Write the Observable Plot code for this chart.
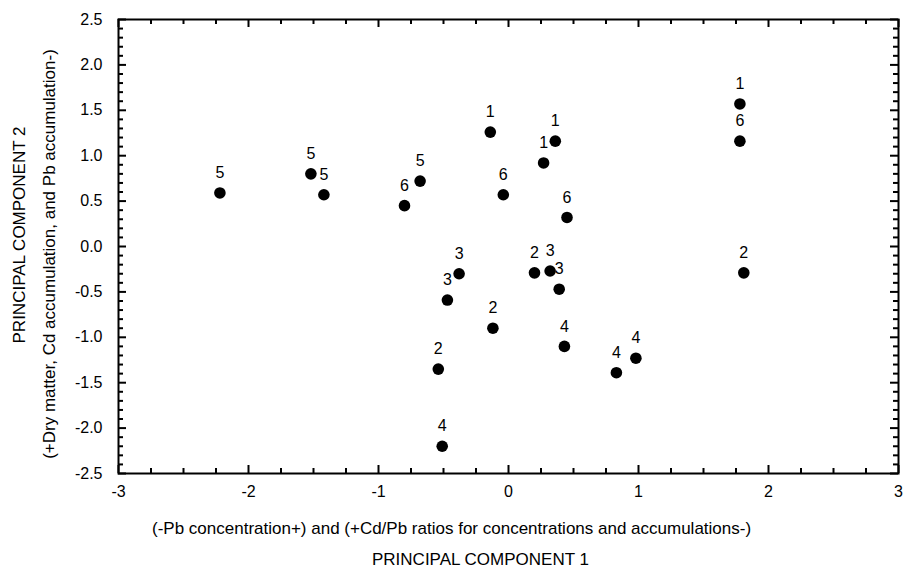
<!DOCTYPE html>
<html>
<head>
<meta charset="utf-8">
<script src="https://cdn.jsdelivr.net/npm/d3@7"></script>
<script src="https://cdn.jsdelivr.net/npm/@observablehq/plot@0.6"></script>
<style>
  html, body { margin: 0; padding: 0; background: #fff; }
  #chart svg { display: block; }
</style>
</head>
<body>
<div id="chart"></div>
<script>
// Data
const pc1 = [-2.22, -1.52, -1.42, -0.68, -0.14, 0.36, 0.27, -0.80, -0.04, 0.45,
             -0.38, -0.47, 0.20, 0.32, 0.39, -0.12, 0.43, -0.54, 0.83, 0.98,
             -0.51, 1.78, 1.78, 1.81];
const pc2 = [0.59, 0.80, 0.57, 0.72, 1.26, 1.16, 0.92, 0.45, 0.57, 0.32,
             -0.30, -0.59, -0.29, -0.27, -0.47, -0.90, -1.10, -1.35, -1.39, -1.23,
             -2.20, 1.57, 1.16, -0.29];
const groups = ["5", "5", "5", "5", "1", "1", "1", "6", "6", "6",
                "3", "3", "2", "3", "3", "2", "4", "2", "4", "4",
                "4", "1", "6", "2"];

const xTicks = [-3, -2, -1, 0, 1, 2, 3];
const yTicks = [-2.5, -2.0, -1.5, -1.0, -0.5, 0.0, 0.5, 1.0, 1.5, 2.0, 2.5];
const xMinor = d3.range(-12, 13).map(i => i / 4).filter(v => !xTicks.includes(v));
const yMinor = d3.range(-25, 26).map(i => i / 10).filter(v => !yTicks.some(t => Math.abs(t - v) < 1e-9));

const xTitle1 = "(-Pb concentration+) and (+Cd/Pb ratios for concentrations and accumulations-)";
const xTitle2 = "PRINCIPAL COMPONENT 1";
const yTitle1 = "PRINCIPAL COMPONENT 2";
const yTitle2 = "(+Dry matter, Cd accumulation, and Pb accumulation-)";

const data = pc1.map((x, i) => ({x, y: pc2[i], g: groups[i]}));

const W = 906, H = 571;
const mL = 118, mR = 8, mT = 19, mB = 98;
const fw = W - mL - mR, fh = H - mT - mB;
const majLen = 8, minLen = 5;

const chart = Plot.plot({
  width: W,
  height: H,
  marginLeft: mL,
  marginRight: mR,
  marginTop: mT,
  marginBottom: mB,
  style: {fontFamily: "'Liberation Sans', Arial, sans-serif", fontSize: "16px", background: "#fff", color: "#000"},
  x: {domain: [-3, 3]},
  y: {domain: [-2.5, 2.5]},
  marks: [
    Plot.frame({stroke: "#000", strokeWidth: 2}),
    // inward ticks: bottom
    Plot.tickX(xTicks, {x: d => d, insetTop: fh - majLen, stroke: "#000", strokeWidth: 2}),
    Plot.tickX(xMinor, {x: d => d, insetTop: fh - minLen, stroke: "#000", strokeWidth: 2}),
    // top
    Plot.tickX(xTicks, {x: d => d, insetBottom: fh - majLen, stroke: "#000", strokeWidth: 2}),
    Plot.tickX(xMinor, {x: d => d, insetBottom: fh - minLen, stroke: "#000", strokeWidth: 2}),
    // left
    Plot.tickY(yTicks, {y: d => d, insetRight: fw - majLen, stroke: "#000", strokeWidth: 2}),
    Plot.tickY(yMinor, {y: d => d, insetRight: fw - minLen, stroke: "#000", strokeWidth: 2}),
    // right
    Plot.tickY(yTicks, {y: d => d, insetLeft: fw - majLen, stroke: "#000", strokeWidth: 2}),
    Plot.tickY(yMinor, {y: d => d, insetLeft: fw - minLen, stroke: "#000", strokeWidth: 2}),
    Plot.axisX({ticks: xTicks, tickSize: 0, tickPadding: 12, tickFormat: d => String(d), fontSize: 16, label: null}),
    Plot.axisY({ticks: yTicks, tickSize: 0, tickPadding: 16, tickFormat: d => d.toFixed(1), fontSize: 16, label: null}),
    Plot.dot(data, {x: "x", y: "y", r: 5.8, fill: "#000", stroke: "none"}),
    Plot.text(data, {x: "x", y: "y", text: "g", dy: -20, fontSize: 16, fill: "#000"})
  ]
});

const svg = d3.select(chart);
const tg = svg.append("g")
  .attr("font-family", "'Liberation Sans', Arial, sans-serif")
  .attr("font-size", 17)
  .attr("fill", "#000");
tg.append("text").attr("x", 152).attr("y", 534).attr("text-anchor", "start").text(xTitle1);
tg.append("text").attr("x", 372).attr("y", 565).attr("text-anchor", "start").text(xTitle2);
tg.append("text").attr("transform", "translate(25,235) rotate(-90)").attr("text-anchor", "middle").text(yTitle1);
tg.append("text").attr("transform", "translate(55,254) rotate(-90)").attr("text-anchor", "middle").text(yTitle2);

document.getElementById("chart").appendChild(chart);
</script>
</body>
</html>
